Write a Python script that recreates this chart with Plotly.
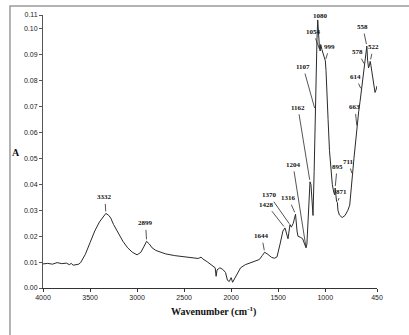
import plotly.graph_objects as go
import numpy as np

# FTIR absorbance spectrum (wavenumber in cm-1, absorbance A)
wavenumber = [
    4000, 3950, 3900, 3850, 3800, 3750, 3720, 3700, 3680, 3650, 3620, 3600,
    3550, 3500, 3450, 3400, 3360, 3332, 3300, 3280, 3250, 3200, 3150, 3100,
    3050, 3000, 2960, 2930, 2899, 2870, 2840, 2800, 2750, 2700, 2600, 2500,
    2400, 2350, 2320, 2300, 2250, 2200, 2170, 2160, 2150, 2120, 2090, 2060,
    2040, 2020, 2000, 1985, 1960, 1930, 1900, 1850, 1800, 1750, 1700, 1670,
    1644, 1610, 1570, 1540, 1513, 1480, 1450, 1428, 1410, 1396, 1375, 1360,
    1340, 1316, 1300, 1290, 1260, 1240, 1220, 1210, 1204, 1195, 1180, 1170,
    1162, 1152, 1140, 1130, 1118, 1107, 1095, 1088, 1080, 1072, 1062, 1054,
    1048, 1035, 1020, 1008, 999, 992, 985, 970, 955, 940, 925, 910, 900, 895,
    888, 880, 871, 865, 850, 835, 820, 790, 760, 740, 725, 711, 695, 680, 663,
    655, 645, 630, 620, 614, 600, 590, 578, 570, 565, 558, 550, 540, 530, 522,
    515, 500, 485, 471, 460, 450,
]
absorbance = [
    0.0093, 0.0095, 0.0092, 0.0098, 0.0094, 0.0096, 0.0090, 0.0095, 0.0088, 0.0090, 0.0092, 0.0098,
    0.0130, 0.0175, 0.0220, 0.0255, 0.0275, 0.0288, 0.0280, 0.0270, 0.0245, 0.0210, 0.0180, 0.0155,
    0.0138, 0.0128, 0.0138, 0.0158, 0.0180, 0.0170, 0.0155, 0.0145, 0.0138, 0.0132, 0.0125, 0.0120,
    0.0116, 0.0114, 0.0119, 0.0112, 0.0100, 0.0086, 0.0078, 0.0045, 0.0070, 0.0078, 0.0072, 0.0060,
    0.0030, 0.0025, 0.0040, 0.0022, 0.0040, 0.0060, 0.0078, 0.0090, 0.0097, 0.0103, 0.0110, 0.0125,
    0.0138, 0.0130, 0.0118, 0.0115, 0.0120, 0.0170, 0.0220, 0.0232, 0.0205, 0.0190, 0.0245, 0.0235,
    0.0250, 0.0285, 0.0220, 0.0200, 0.0195, 0.0190, 0.0170, 0.0158, 0.0155, 0.0170, 0.0290, 0.0370,
    0.0410, 0.0400, 0.0300, 0.0280, 0.0450, 0.0687, 0.0860, 0.0960, 0.1035, 0.0980, 0.0930, 0.0915,
    0.0940, 0.0920, 0.0900, 0.0890, 0.0877, 0.0840, 0.0750, 0.0650, 0.0530, 0.0450, 0.0400, 0.0370, 0.0360, 0.0386,
    0.0350, 0.0335, 0.0330, 0.0300, 0.0282, 0.0275, 0.0272, 0.0280, 0.0300, 0.0320, 0.0370, 0.0436, 0.0500, 0.0560, 0.0620,
    0.0640, 0.0680, 0.0720, 0.0750, 0.0764, 0.0790, 0.0820, 0.0860, 0.0880, 0.0910, 0.0934, 0.0880, 0.0850, 0.0860, 0.0875,
    0.0860, 0.0820, 0.0780, 0.0755, 0.0765, 0.0780,
]

# Assigned band positions and where each label sits relative to its band (px)
peak_labels = [3332, 2899, 1644, 1428, 1370, 1316, 1204, 1162, 1107, 1080,
               1054, 999, 895, 871, 711, 663, 614, 578, 558, 522]
label_dx = [-1, -1, -3, -18, -21, -7, -13, -12, -12, 3,
            -7, 4, 2, 4, -4, -2, -6, -7, -4, 3]
label_dy = [-16, -18, -16, -23, -30, -16, -83, -74, -43, -4,
            -19, -14, -21, -11, -13, -20, -13, -13, -19, -14]

x_tick_vals = [4000, 3500, 3000, 2500, 2000, 1500, 1000, 450]
x_tick_text = ["4000", "3500", "3000", "2500", "2000", "1500", "1000", "450"]
y_tick_vals = [0.00, 0.01, 0.02, 0.03, 0.04, 0.05, 0.06, 0.07, 0.08, 0.09, 0.10, 0.1054]
y_tick_text = ["0.00", "0.01", "0.02", "0.03", "0.04", "0.05", "0.06", "0.07",
               "0.08", "0.09", "0.10", "0.11"]

fig = go.Figure()
fig.add_trace(go.Scatter(
    x=wavenumber, y=absorbance, mode="lines",
    line=dict(color="#2a2a2a", width=1), hoverinfo="skip", showlegend=False,
))

wn_arr = np.array(wavenumber[::-1], dtype=float)
ab_arr = np.array(absorbance[::-1], dtype=float)
for wn, dx, dy in zip(peak_labels, label_dx, label_dy):
    yv = float(np.interp(wn, wn_arr, ab_arr))
    fig.add_annotation(
        x=wn, y=yv, text=str(wn), showarrow=True, arrowhead=0,
        arrowwidth=0.8, arrowcolor="#2a2a2a", ax=dx, ay=dy,
        standoff=2, startstandoff=1,
        font=dict(family="Liberation Serif", size=7, color="#111", weight="bold"),
    )

fig.add_annotation(
    xref="paper", yref="paper", x=0.51, y=-0.085, yanchor="middle",
    text="Wavenumber (cm<sup>-1</sup>)", showarrow=False,
    font=dict(family="Liberation Serif", size=10, color="#111", weight="bold"),
)
fig.add_annotation(
    xref="paper", yref="paper", x=-0.064, xanchor="right", y=0.497, yanchor="middle",
    text="A", showarrow=False,
    font=dict(family="Liberation Serif", size=10, color="#111", weight="bold"),
)

# outer frame around the figure
fig.add_shape(
    type="rect", xref="paper", yref="paper",
    x0=-0.0988, x1=1.12, y0=-0.22, y1=1.033,
    line=dict(color="#9a9a9a", width=1.5), fillcolor="rgba(0,0,0,0)", layer="below",
)

fig.update_layout(
    width=409, height=335,
    margin=dict(l=43, r=32, t=15, b=47),
    paper_bgcolor="white", plot_bgcolor="white",
    xaxis=dict(
        range=[4000, 450], tickvals=x_tick_vals, ticktext=x_tick_text,
        showgrid=False, zeroline=False, showline=True, linecolor="#333", linewidth=1,
        ticks="outside", ticklen=3, tickcolor="#333",
        tickfont=dict(family="Liberation Sans", size=7, color="#222"),
    ),
    yaxis=dict(
        range=[0, 0.1054], tickvals=y_tick_vals, ticktext=y_tick_text,
        showgrid=False, zeroline=False, showline=True, linecolor="#555", linewidth=1,
        ticks="outside", ticklen=3, tickcolor="#555",
        tickfont=dict(family="Liberation Sans", size=7, color="#222"),
    ),
)

fig.write_html("out.html")
